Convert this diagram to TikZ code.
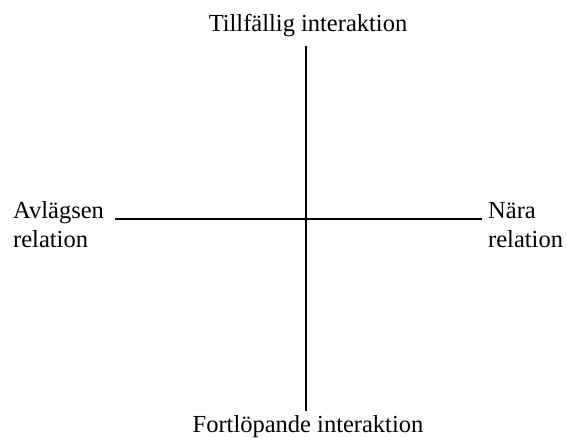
\documentclass[tikz,border=0pt]{standalone}
\usepackage{fontspec}
\setmainfont{Liberation Serif}
\begin{document}
\begin{tikzpicture}[x=1pt,y=1pt,
  lbl/.style={inner sep=0pt,font=\fontsize{24.5}{29}\selectfont},
  axis/.style={line width=2pt}]
\useasboundingbox (0,0) rectangle (566,439);
\node[lbl,anchor=base] (top) at (308,407) {Tillfällig interaktion};
\node[lbl,anchor=base] (bot) at (308,6) {Fortlöpande interaktion};
\node[lbl,anchor=base west,align=left] (lft) at (13,191) {Avlägsen\\relation};
\node[lbl,anchor=base west,align=left] (rgt) at (488,191) {Nära\\relation};
\coordinate (vt) at (306,393);
\coordinate (vb) at (306,28);
\coordinate (hl) at (115,220);
\coordinate (hr) at (482,220);
\draw[axis] (vt) -- (vb);
\draw[axis] (hl) -- (hr);
\end{tikzpicture}
\end{document}
